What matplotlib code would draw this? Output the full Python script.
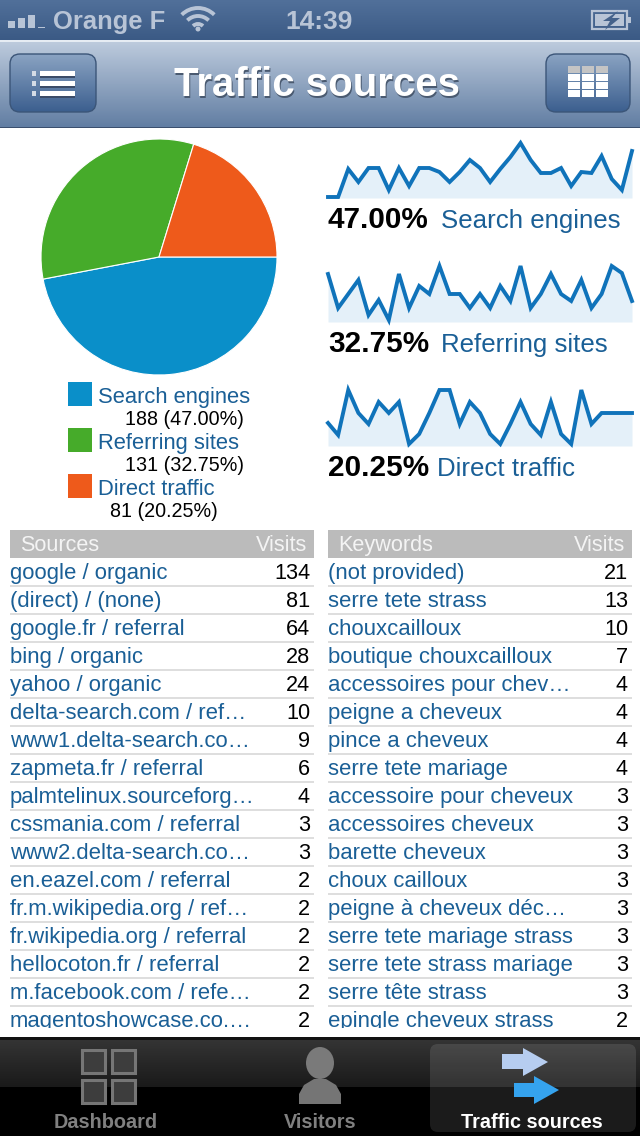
import numpy as np
import matplotlib
matplotlib.use("Agg")
import matplotlib.pyplot as plt
from matplotlib.colors import to_rgb
from matplotlib.patches import Rectangle, FancyBboxPatch, Polygon, Circle, Ellipse, Arc

plt.rcParams["font.family"] = ["Liberation Sans", "DejaVu Sans"]

W, H = 640, 1136

# pie + legend
pie_labels = ["Search engines", "Referring sites", "Direct traffic"]
pie_values = [188, 131, 81]
pie_pct = ["47.00%", "32.75%", "20.25%"]
pie_colors = ["#0a8fc9", "#46ab2a", "#ee5a1b"]

# sparklines, 31 daily points, heights (px above the baseline)
spark_search = [0, 0, 28, 15, 29, 29, 7, 29, 11, 29, 29, 25, 15, 25, 37, 29,
                15, 28, 40, 54, 37, 24, 24, 29, 11, 25, 24, 41, 18, 7, 46]
spark_referring = [47, 13, 27, 41, 6, 21, 1, 47, 13, 35, 27, 55, 27, 27, 13, 27,
                   13, 35, 20, 55, 13, 27, 47, 27, 20, 41, 13, 27, 55, 48, 20]
spark_direct = [22, 10, 55, 32, 21, 43, 32, 43, 1, 11, 32, 55, 55, 21, 43, 32,
                11, 1, 21, 43, 21, 10, 43, 11, 1, 55, 21, 32, 32, 32, 32]

# tables
sources = ["google / organic", "(direct) / (none)", "google.fr / referral", "bing / organic",
           "yahoo / organic", "delta-search.com / ref…", "www1.delta-search.co…",
           "zapmeta.fr / referral", "palmtelinux.sourceforg…", "cssmania.com / referral",
           "www2.delta-search.co…", "en.eazel.com / referral", "fr.m.wikipedia.org / ref…",
           "fr.wikipedia.org / referral", "hellocoton.fr / referral", "m.facebook.com / refe…",
           "magentoshowcase.co.…"]
source_visits = [134, 81, 64, 28, 24, 10, 9, 6, 4, 3, 3, 2, 2, 2, 2, 2, 2]
keywords = ["(not provided)", "serre tete strass", "chouxcailloux", "boutique chouxcailloux",
            "accessoires pour chev…", "peigne a cheveux", "pince a cheveux", "serre tete mariage",
            "accessoire pour cheveux", "accessoires cheveux", "barette cheveux", "choux cailloux",
            "peigne à cheveux déc…", "serre tete mariage strass", "serre tete strass mariage",
            "serre tête strass", "epingle cheveux strass"]
keyword_visits = [21, 13, 10, 7, 4, 4, 4, 4, 3, 3, 3, 3, 3, 3, 3, 3, 2]

LINK = "#1a5f96"
SPARK = "#1073ba"
SPARK_FILL = "#e4f0f9"
STATUS = "#b8c4d6"


def px_axes(fig, x0, y0, x1, y1):
    return fig.add_axes([x0 / W, 1 - y1 / H, (x1 - x0) / W, (y1 - y0) / H])


def gradient(ax, x0, y0, x1, y1, top, bottom, clip=None, zorder=1):
    c0 = np.array(to_rgb(top))
    c1 = np.array(to_rgb(bottom))
    t = np.linspace(0, 1, 64)[:, None, None]
    img = c0[None, None, :] * (1 - t) + c1[None, None, :] * t
    im = ax.imshow(img, extent=(x0, x1, y1, y0), aspect="auto", zorder=zorder)
    if clip is not None:
        im.set_clip_path(clip)


def round_button(ax, x0, y0, x1, y1, top, bottom, edge, r=10, zorder=3):
    box = FancyBboxPatch((x0 + r, y0 + r), x1 - x0 - 2 * r, y1 - y0 - 2 * r,
                         boxstyle=f"round,pad={r},rounding_size={r}",
                         fc="none", ec=edge, lw=1.0, zorder=zorder + 1)
    ax.add_patch(box)
    gradient(ax, x0, y0, x1, y1, top, bottom, clip=box, zorder=zorder)


fig = plt.figure(figsize=(W / 100, H / 100), dpi=100, facecolor="white")
ax = fig.add_axes([0, 0, 1, 1])

# status bar and nav bar
gradient(ax, 0, 0, W, 40, "#51709a", "#3b5a85")
ax.add_patch(Rectangle((0, 40), W, 1.5, fc="#e6ecf3", ec="none", zorder=2))
gradient(ax, 0, 41, W, 127, "#bdcbdd", "#627ea3")
ax.add_patch(Rectangle((0, 126.5), W, 1.5, fc="#3a4f6e", ec="none", zorder=2))

for bx, bh in zip([8, 18, 28, 38], [7, 10, 13, 1.5]):
    ax.add_patch(Rectangle((bx, 28 - bh), 7, bh, fc=STATUS, ec="none", zorder=3))
ax.text(53, 29, "Orange F", fontsize=18.4, fontweight="bold", color=STATUS, zorder=3)
for r in [7, 15, 23]:
    ax.add_patch(Arc((198, 31), 2 * r, 2 * r, theta1=225, theta2=315, color=STATUS, lw=2.8, zorder=3))
ax.add_patch(Circle((198, 29), 2.5, fc=STATUS, ec="none", zorder=3))
ax.text(285, 29, "14:39", fontsize=19, fontweight="bold", color=STATUS, zorder=3)
ax.add_patch(Rectangle((592, 11), 35, 18, fc="none", ec=STATUS, lw=1.6, zorder=3))
ax.add_patch(Rectangle((595, 14), 29, 12, fc=STATUS, ec="none", zorder=3))
ax.add_patch(Rectangle((628, 17), 3, 6, fc=STATUS, ec="none", zorder=3))
ax.add_patch(Polygon([[618, 11], [603, 21], [610, 21], [605, 30], [620, 18], [612, 18]],
                     fc="#45628b", ec="none", zorder=4))

# nav buttons
round_button(ax, 10, 54, 96, 112, "#8aa3c2", "#3c5f8f", "#3b5578")
round_button(ax, 546, 54, 630, 112, "#8aa3c2", "#3c5f8f", "#3b5578")
for yy in [71, 81, 91]:
    ax.add_patch(Rectangle((40, yy + 1.5), 35, 5, fc="#3b4c68", ec="none", zorder=5))
    ax.add_patch(Rectangle((40, yy), 35, 5, fc="white", ec="none", zorder=6))
    ax.add_patch(Rectangle((32, yy), 4, 5, fc="#d5dce6", ec="none", zorder=6))
for row, yy in enumerate([66, 74, 82, 90]):
    for xx in [568, 582, 596]:
        col = "#c4c4c4" if row == 0 else "white"
        ax.add_patch(Rectangle((xx, yy), 12, 6.5, fc=col, ec="none", zorder=6))
ax.text(318, 97.5, "Traffic sources", fontsize=29, fontweight="bold", color="#4a5a70",
        ha="center", va="baseline", zorder=4)
ax.text(317, 96, "Traffic sources", fontsize=29, fontweight="bold", color="white",
        ha="center", va="baseline", zorder=5)

# legend under the pie
legend_y = [382, 428, 474]
legend_val_x = [125, 125, 110]
for i, name in enumerate(pie_labels):
    y = legend_y[i]
    ax.add_patch(Rectangle((68, y), 24, 24, fc=pie_colors[i], ec="none", zorder=2))
    ax.text(98, y + 21, name, fontsize=15.8, color=LINK, va="baseline", zorder=2)
    ax.text(legend_val_x[i], y + 43, f"{pie_values[i]} ({pie_pct[i]})", fontsize=14.2,
            color="black", va="baseline", zorder=2)

# sparkline captions
spark_text_y = [228, 352, 476]
spark_label_x = [441, 441, 437]
for i, name in enumerate(pie_labels):
    ax.text(328, spark_text_y[i], pie_pct[i], fontsize=21.4, fontweight="bold", color="black", zorder=2)
    ax.text(spark_label_x[i], spark_text_y[i], name, fontsize=18.6, color=LINK, zorder=2)


def draw_table(x0, x1, head, names, visits):
    ax.add_patch(Rectangle((x0, 530), x1 - x0, 28, fc="#bbbbbb", ec="none", zorder=2))
    ax.text(x0 + 10, 551, head, fontsize=15.6, color="#f4f4f4", zorder=3)
    ax.text(x1 - 7, 551, "Visits", fontsize=15.6, color="#f4f4f4", ha="right", zorder=3)
    for i, (name, v) in enumerate(zip(names, visits)):
        base = 579 + 28 * i
        ax.text(x0, base, name, fontsize=15.9, color=LINK, zorder=3)
        ax.text(x1 - 4, base, str(v), fontsize=15.6, color="black", ha="right", zorder=3)
        if i < len(names) - 1:
            ax.add_patch(Rectangle((x0, base + 6), x1 - x0, 2, fc="#dedede", ec="none", zorder=2))


draw_table(10, 314, "Sources", sources, source_visits)
draw_table(328, 632, "Keywords", keywords, keyword_visits)

# last row is cut off by the tab bar
ax.add_patch(Rectangle((0, 1027.5), W, 10, fc="white", ec="none", zorder=4))

# tab bar
gradient(ax, 0, 1040, W, 1087, "#343434", "#1a1a1a", zorder=5)
ax.add_patch(Rectangle((0, 1037), W, 3, fc="#111111", ec="none", zorder=5))
ax.add_patch(Rectangle((0, 1087), W, 49, fc="black", ec="none", zorder=5))
ax.add_patch(FancyBboxPatch((438, 1052), 190, 72, boxstyle="round,pad=8,rounding_size=8",
                            fc="white", alpha=0.11, ec="none", zorder=6))
for xx in [80, 110]:
    for yy in [1048, 1078]:
        ax.add_patch(Rectangle((xx + 1.5, yy + 1.5), 23, 23, fc="#3d3d3d", ec="#767676", lw=2.2, zorder=7))
ax.add_patch(Ellipse((320, 1063), 28, 32, fc="#7a7a7a", ec="none", zorder=7))
ax.add_patch(Polygon([[299, 1104], [299, 1094], [304, 1085], [314, 1079], [326, 1079], [336, 1085],
                      [341, 1094], [341, 1104]], fc="#757575", ec="none", zorder=7))
ax.add_patch(Polygon([[502, 1054], [523, 1054], [523, 1048], [548, 1062], [523, 1076],
                      [523, 1069], [502, 1069]], fc="#b6cdf0", ec="none", zorder=7))
ax.add_patch(Polygon([[514, 1083], [534, 1083], [534, 1076], [559, 1090], [534, 1104],
                      [534, 1097], [514, 1097]], fc="#35a3ee", ec="none", zorder=8))
ax.text(106, 1128, "Dashboard", fontsize=14.3, fontweight="bold", color="#808080", ha="center", zorder=7)
ax.text(320, 1128, "Visitors", fontsize=14.3, fontweight="bold", color="#808080", ha="center", zorder=7)
ax.text(532, 1128, "Traffic sources", fontsize=14.3, fontweight="bold", color="white", ha="center", zorder=7)

ax.set_xlim(0, W)
ax.set_ylim(H, 0)
ax.axis("off")

# pie
pie_ax = px_axes(fig, 41, 139, 277, 375)
pie_ax.pie(pie_values, colors=pie_colors, startangle=0, counterclock=False, radius=1.0,
           wedgeprops={"edgecolor": "white", "linewidth": 0.8})
pie_ax.set_xlim(-1, 1)
pie_ax.set_ylim(-1, 1)

# sparklines
spark_series = [spark_search, spark_referring, spark_direct]
spark_base = [198, 322, 446]
for series, base in zip(spark_series, spark_base):
    s_ax = px_axes(fig, 328, base - 60, 632, base)
    days = np.arange(len(series))
    s_ax.fill_between(days, series, -1, color=SPARK_FILL, lw=0)
    s_ax.plot(days, series, color=SPARK, lw=2.8, solid_joinstyle="miter", clip_on=False)
    s_ax.set_xlim(0, len(series) - 1)
    s_ax.set_ylim(-1, 59)
    s_ax.axis("off")

fig.savefig("out.png", dpi=100)
